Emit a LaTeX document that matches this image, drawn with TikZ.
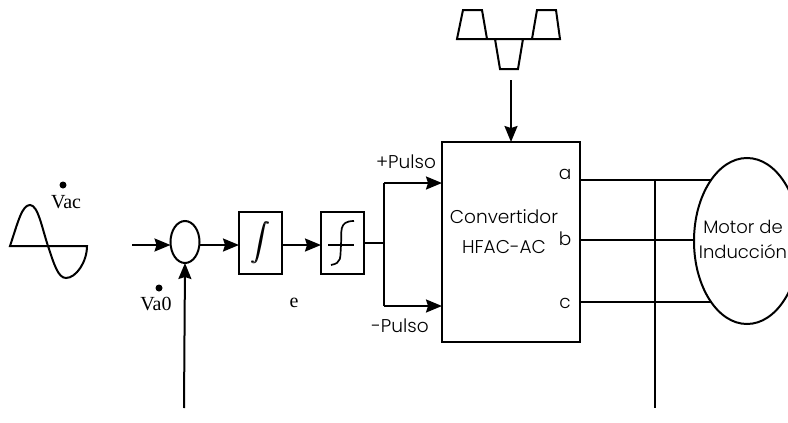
\documentclass[tikz,border=0pt]{standalone}
\usepackage{graphicx}
\usepackage{fontspec}
\setmainfont{Poppins}[UprightFont=* Light]
\newfontfamily\serifcap{Liberation Serif}
\usetikzlibrary{arrows.meta,positioning,shapes.geometric}

\newcommand{\heavyint}{\rlap{$\displaystyle\int$}\kern0.35pt$\displaystyle\int$}

\tikzset{
    wire/.style={line width=2pt},
    arrowwire/.style={wire,-{Stealth[length=16pt,width=13pt,inset=2pt]}},
    blockbox/.style={draw,line width=2pt,minimum width=43pt,minimum height=62pt,inner sep=0pt,outer sep=0pt},
    lbl/.style={inner sep=0pt,font=\fontsize{18.5}{25}\selectfont},
    caplbl/.style={inner sep=0pt,font=\serifcap\fontsize{20}{22}\selectfont},
    bigdot/.style={circle,fill,inner sep=0pt,minimum size=7pt}
}

\begin{document}
\begin{tikzpicture}[x=1pt,y=-1pt]
    \useasboundingbox (0,0) rectangle (788,423);

    % sources
    \draw[wire] (10,246) .. controls (18,222) and (22,205) .. (30,205)
        .. controls (38,205) and (42,228) .. (48,246)
        .. controls (54,264) and (58,278) .. (66,278)
        .. controls (76,278) and (87,262) .. (87,246) -- cycle;
    \draw[wire] (457,39) -- (463,10) -- (482,10) -- (487,39) -- (495,39) -- (500,69)
        -- (518,69) -- (523,39) -- (532,39) -- (537,10) -- (556,10) -- (560,39) -- cycle;

    \node[bigdot] (dotac) at (63,185) {};
    \node[caplbl] (vac) at (66,202) {Vac};
    \node[bigdot] (dotao) at (159,288) {};
    \node[caplbl] (vao) at (156,304) {Va0};
    \node[caplbl] (err) at (294,303) {e};

    % blocks
    \node[draw,ellipse,line width=2pt,minimum width=29pt,minimum height=42pt,inner sep=0pt,outer sep=0pt] (sum) at (185,242) {};
    \node[blockbox] (integ) at (260.5,243) {\scalebox{1.9}{\heavyint}};
    \node[blockbox,right=39pt of integ] (hyst) {};
    \node[draw,line width=2pt,minimum width=138pt,minimum height=200pt,inner sep=0pt,outer sep=0pt] (conv) at (511,242) {};
    \node[draw,ellipse,line width=2pt,minimum width=106pt,minimum height=166pt,inner sep=0pt,outer sep=0pt] (motor) at (747,241) {};

    \node[lbl,align=center] (convtxt) at (504,232) {Convertidor\\[5pt]HFAC-AC};
    \node[lbl,align=center,font=\fontsize{18}{25}\selectfont] (mottxt) at (743,239) {Motor de\\Inducción};
    \node[lbl] (pa) at (565,174) {a};
    \node[lbl] (pb) at (565,239) {b};
    \node[lbl] (pc) at (565,303) {c};
    \node[lbl] (pulsop) at (406,162) {+Pulso};
    \node[lbl] (pulsom) at (400,326) {-Pulso};

    % relay curve
    \draw[wire,line width=1.5pt] (328,245) -- (354,245);
    \draw[wire,line width=1.7pt] (354,221) .. controls (338,221) and (342,232) .. (341,245)
        .. controls (340,258) and (342,263) .. (331,265);

    % free ends and junctions
    \coordinate (acin) at (132,245);
    \coordinate (fbin) at (184,408);
    \coordinate (pulsein) at (511,80);
    \coordinate (split) at (384,243);
    \coordinate (upper) at (384,183);
    \coordinate (lower) at (384,306);
    \coordinate (tap) at (655,408);
    \coordinate (outa) at (580,180);
    \coordinate (outb) at (580,240);
    \coordinate (outc) at (580,302);

    \draw[arrowwire] (acin) -- (acin -| sum.west);
    \draw[arrowwire] (fbin) -- (sum.south);
    \draw[arrowwire] (sum.east |- acin) -- (integ.west |- acin);
    \draw[arrowwire] (integ.east |- acin) -- (hyst.west |- acin);
    \draw[wire] (hyst.east |- split) -- (split);
    \draw[wire] (lower) -- (upper);
    \draw[arrowwire] (upper) -- (upper -| conv.west);
    \draw[arrowwire] (lower) -- (lower -| conv.west);
    \draw[arrowwire] (pulsein) -- (pulsein |- conv.north);
    \draw[wire] (outa) -- (outa -| motor.120.5);
    \draw[wire] (outb) -- (outb -| motor.west);
    \draw[wire] (outc) -- (outc -| motor.239.5);
    \draw[wire] (outa -| tap) -- (tap);
\end{tikzpicture}
\end{document}
